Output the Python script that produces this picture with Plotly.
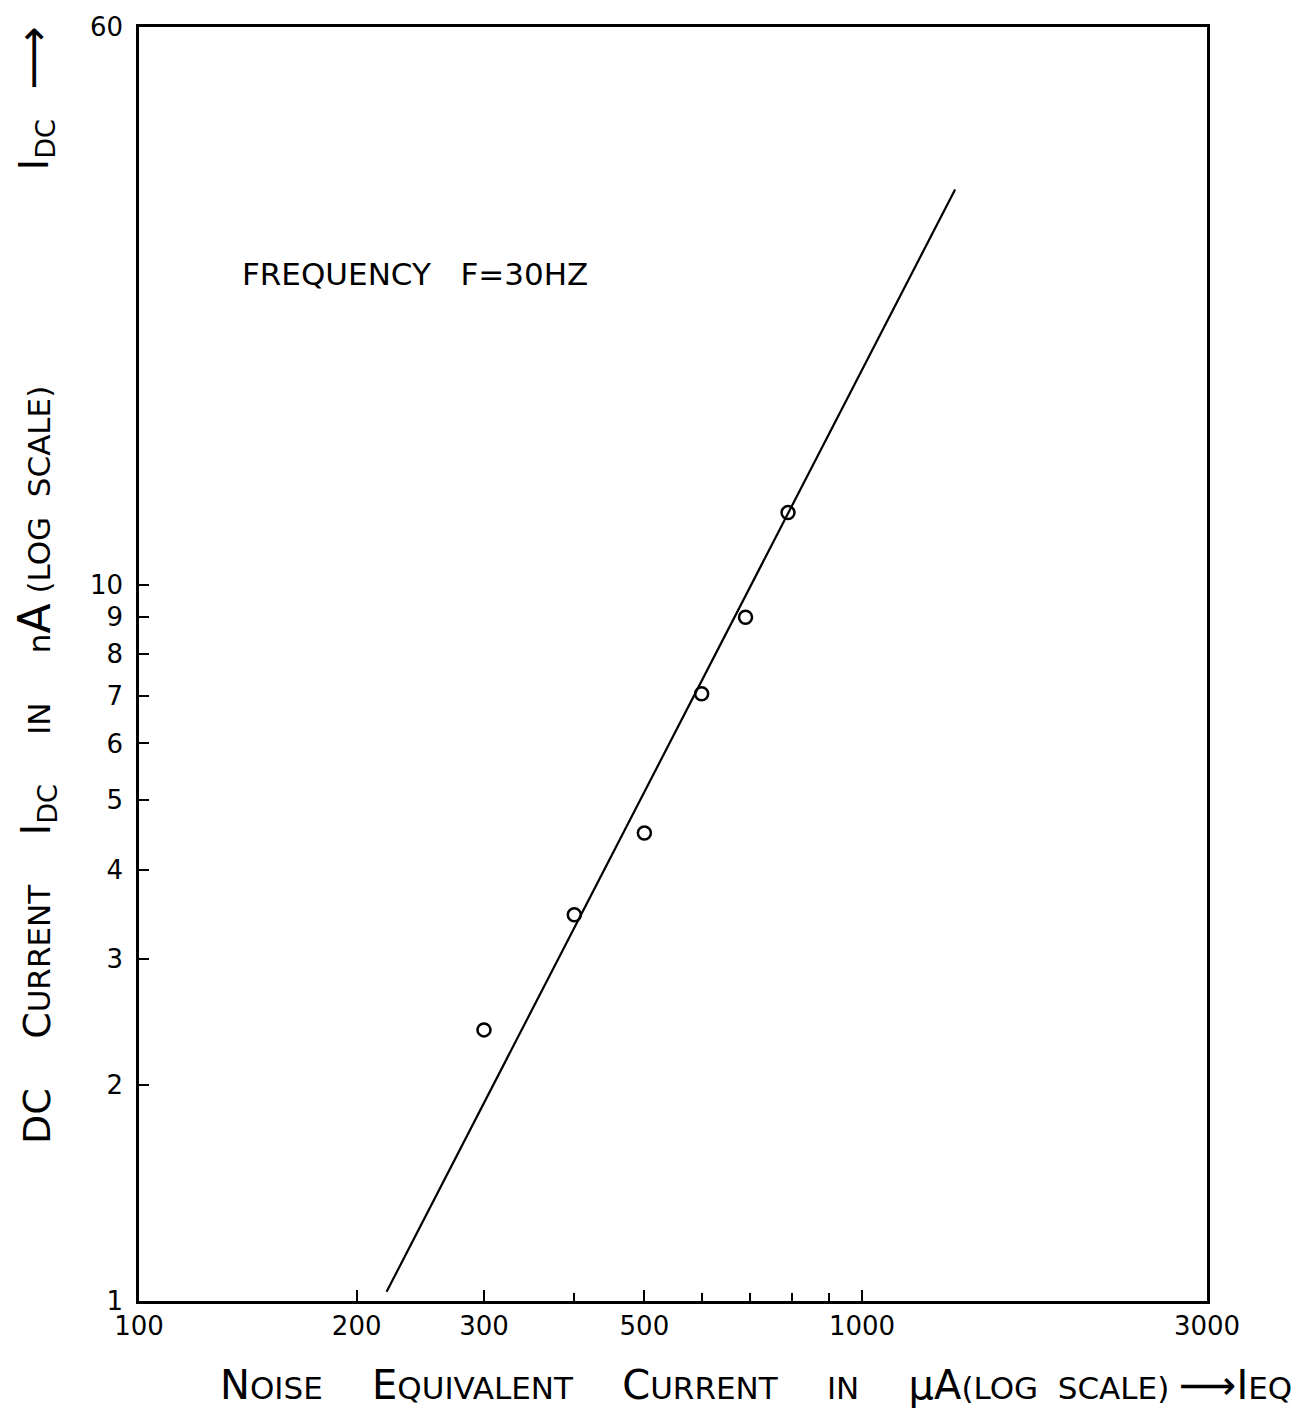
import plotly.graph_objects as go

# Data
noise_current_uA = [300, 400, 500, 600, 690, 790]
dc_current_nA = [2.39, 3.46, 4.5, 7.04, 9.0, 12.6]

fit_x = [220, 1345]
fit_y = [1.03, 35.6]

x_tick_vals = [100, 200, 300, 500, 1000, 3000]
x_tick_text = ["100", "200", "300", "500", "1000", "3000"]
x_minor_vals = [400, 600, 700, 800, 900]

y_tick_vals = [1, 2, 3, 4, 5, 6, 7, 8, 9, 10, 60]
y_tick_text = ["1", "2", "3", "4", "5", "6", "7", "8", "9", "10", "60"]

FONT = "DejaVu Sans"

fig = go.Figure()
fig.add_trace(go.Scatter(x=fit_x, y=fit_y, mode="lines",
                         line=dict(color="black", width=2.2), showlegend=False))
fig.add_trace(go.Scatter(x=noise_current_uA, y=dc_current_nA, mode="markers",
                         marker=dict(symbol="circle-open", size=13, color="black",
                                     line=dict(width=2.5, color="black")),
                         showlegend=False))

W, H = 1313, 1412
L, R, T, B = 139, 106, 20, 111
pw, ph = W - L - R, H - T - B

def px(xp):
    return (xp - L) / pw

def py(yp):
    return (H - B - yp) / ph

def sc(word, bs, ss):
    return f'<span style="font-size:{bs}px">{word[0]}</span><span style="font-size:{ss}px">{word[1:]}</span>'

# y title
yb, ys = 38, 31
ysp = "\u00a0" * 5
ytitle = (f'<span style="font-size:{yb}px">DC</span>{ysp}' + sc("CURRENT", yb, ys) + ysp +
          f'<span style="font-size:{yb+2}px">I</span><sub><span style="font-size:{ys-4}px">DC</span></sub>{ysp}'
          f'<span style="font-size:{ys}px">IN</span>{ysp}'
          f'<span style="font-size:{ys}px">n</span><span style="font-size:{yb+6}px">A</span>'
          f'<span style="font-size:{ys}px">\u00a0(LOG\u00a0\u00a0SCALE)</span>')

# x title
xb, xs = 40, 31
xsp = "\u00a0" * 5
xtitle = (sc("NOISE", xb, xs) + xsp + sc("EQUIVALENT", xb, xs) + xsp + sc("CURRENT", xb, xs) + xsp +
          f'<span style="font-size:{xs}px">IN</span>{xsp}'
          f'<span style="font-size:{xb}px">μA</span><span style="font-size:{xs}px">(LOG\u00a0\u00a0SCALE)\u00a0</span>'
          f'<span style="font-size:{xb}px">⟶</span>'
          f'<span style="font-size:{xb}px">I</span><span style="font-size:{xs}px">EQ</span>')

fig.update_layout(
    width=W, height=H,
    margin=dict(l=L, r=R, t=T, b=B),
    paper_bgcolor="white", plot_bgcolor="white",
    font=dict(family=FONT, color="black", size=24),
    xaxis=dict(type="log", range=[2, 3.4771], showgrid=False, zeroline=False,
               showline=True, mirror=True, linecolor="black", linewidth=2.5,
               tickmode="array", tickvals=x_tick_vals, ticktext=x_tick_text,
               ticks="inside", ticklen=11, tickwidth=2, tickcolor="black",
               tickfont=dict(size=26, family=FONT),
               minor=dict(tickmode="array", tickvals=x_minor_vals, ticks="inside",
                          ticklen=8, tickwidth=2, tickcolor="black", showgrid=False)),
    yaxis=dict(type="log", range=[0, 1.77815], showgrid=False, zeroline=False,
               showline=True, mirror=True, linecolor="black", linewidth=2.5,
               tickmode="array", tickvals=y_tick_vals, ticktext=y_tick_text,
               ticks="inside", ticklen=10, tickwidth=2, tickcolor="black",
               tickfont=dict(size=26, family=FONT), ticklabelstandoff=8),
    annotations=[
        dict(text="FREQUENCY\u00a0\u00a0\u00a0F=30HZ", xref="paper", yref="paper",
             x=px(415), y=py(268), xanchor="center", yanchor="middle", showarrow=False,
             font=dict(size=31, family=FONT)),
        dict(text=ytitle, xref="paper", yref="paper", x=px(36), y=py(762),
             xanchor="center", yanchor="middle",
             textangle=-90, showarrow=False, font=dict(size=ys, family=FONT)),
        dict(text=f'<span style="font-size:{yb+2}px">I</span><sub><span style="font-size:{ys-4}px">DC</span></sub>\u00a0\u00a0\u00a0<span style="font-size:{yb+6}px">⟶</span>',
             xref="paper", yref="paper", x=px(34), y=py(92),
             xanchor="center", yanchor="middle",
             textangle=-90, showarrow=False, font=dict(size=ys, family=FONT)),
        dict(text=xtitle, xref="paper", yref="paper", x=px(756), y=py(1385),
             xanchor="center", yanchor="middle",
             showarrow=False, font=dict(size=xs, family=FONT)),
    ],
)

fig.write_html("out.html")
